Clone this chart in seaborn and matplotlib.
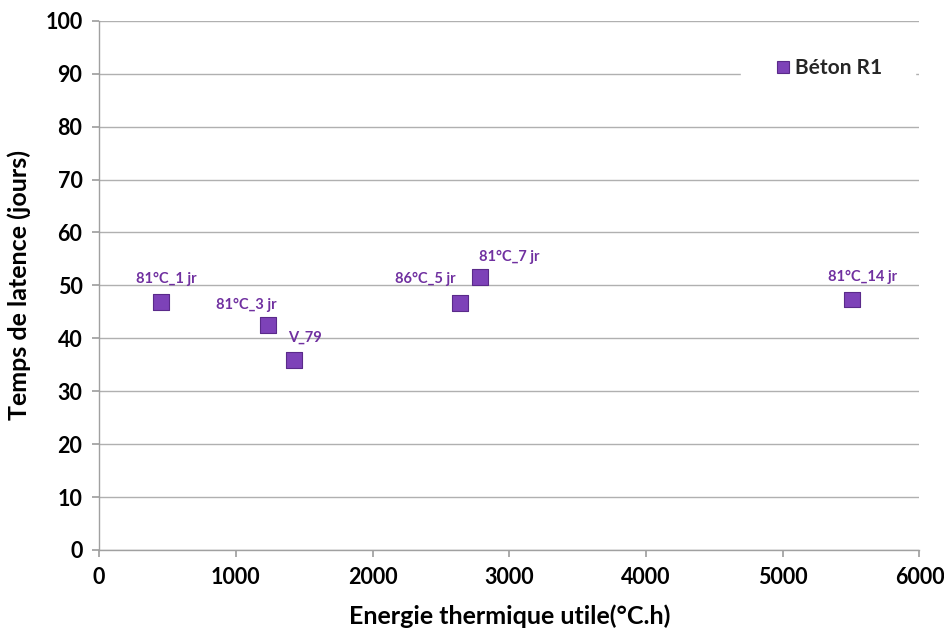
import matplotlib
matplotlib.use("Agg")
import matplotlib.pyplot as plt
import seaborn as sns
import pandas as pd

labels = ["81°C_1 jr", "81°C_3 jr", "V_79", "86°C_5 jr", "81°C_7 jr", "81°C_14 jr"]
energie = [454, 1236, 1427, 2641, 2787, 5508]
latence = [46.9, 42.5, 35.9, 46.7, 51.6, 47.3]
series_name = "Béton R1"

# label offsets (pixels, relative to the marker centre)
label_offsets = [(5, 23), (-22, 20), (11, 22), (-35, 24), (29, 20), (10, 23)]

df = pd.DataFrame({"Energie": energie, "Latence": latence, "Série": [series_name] * len(energie)})

sns.set_theme(style="white")
plt.rcParams["font.family"] = ["Lato", "DejaVu Sans"]

fig = plt.figure(figsize=(9.44, 6.30), dpi=100)
ax = fig.add_axes([0.105, 0.127, 0.869, 0.840])

sns.scatterplot(data=df, x="Energie", y="Latence", hue="Série", palette=["#7d42b8"],
                marker="s", s=125, edgecolor="#5a2a8a", linewidth=0.8, ax=ax, zorder=3)

for lab, xv, yv, (dx, dy) in zip(labels, energie, latence, label_offsets):
    ax.annotate(lab, (xv, yv), xytext=(dx * 0.72, dy * 0.72), textcoords="offset points",
                ha="center", va="center", fontsize=10.5, fontweight="bold", color="#7030a0")

ax.set_xlim(0, 6000)
ax.set_ylim(0, 100)
ax.set_xticks(range(0, 6001, 1000))
ax.set_yticks(range(0, 101, 10))
ax.yaxis.grid(True, color="#b0b0b0", linewidth=1)
ax.xaxis.grid(False)
ax.set_axisbelow(True)
for s in ["top", "right"]:
    ax.spines[s].set_visible(False)
for s in ["left", "bottom"]:
    ax.spines[s].set_color("#a0a0a0")
    ax.spines[s].set_linewidth(1)
ax.tick_params(axis="both", which="both", direction="out", length=5, color="#a0a0a0",
               labelsize=15.5, pad=7, bottom=True, left=True, labelcolor="black")
for t in ax.get_xticklabels() + ax.get_yticklabels():
    t.set_fontweight("bold")

ax.set_xlabel("Energie thermique utile(°C.h)", fontsize=18, fontweight="bold", labelpad=12,
              color="black")
ax.set_ylabel("Temps de latence (jours)", fontsize=18, fontweight="bold", labelpad=10,
              color="black")

leg = ax.legend(loc="center right", bbox_to_anchor=(0.995, 0.911), frameon=True, fontsize=15,
                markerscale=0.8, handletextpad=0.1, borderpad=1.6, borderaxespad=0,
                handlelength=0.9)
leg.get_frame().set_facecolor("white")
leg.get_frame().set_edgecolor("white")
leg.get_frame().set_alpha(1)
leg.get_frame().set_boxstyle("square", pad=0)
for t in leg.get_texts():
    t.set_fontweight("bold")

fig.savefig("out.png", dpi=100, facecolor="white")
